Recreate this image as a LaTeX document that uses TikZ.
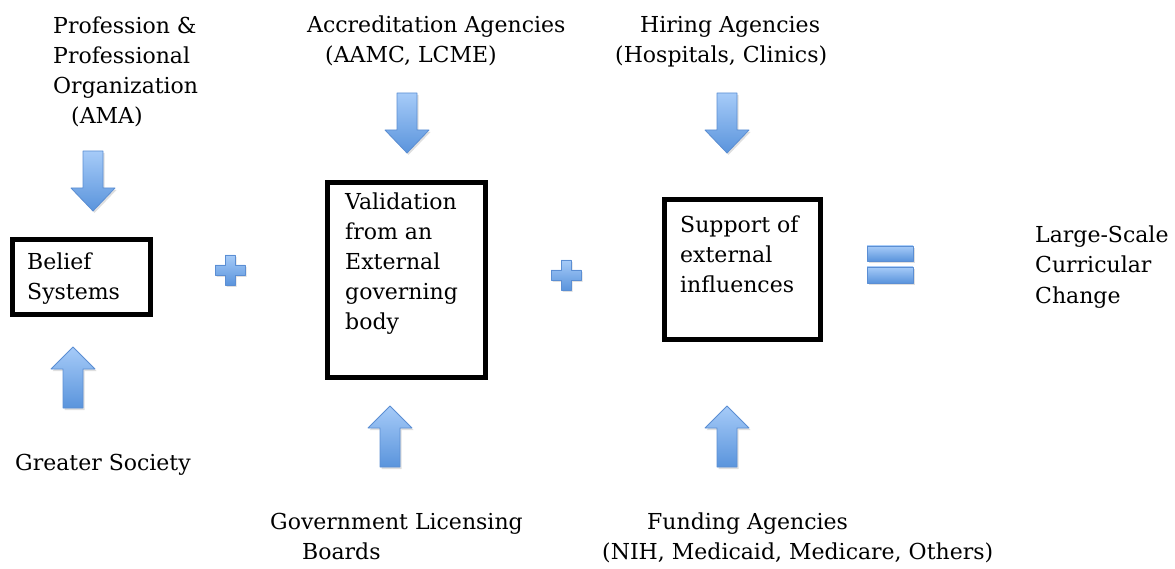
\documentclass[tikz,border=0pt]{standalone}
\usepackage{fontspec}
\setmainfont{DejaVu Serif}
\usetikzlibrary{shadows}
\definecolor{arrowtop}{HTML}{A6CBF8}
\definecolor{arrowbot}{HTML}{5A94DC}
\definecolor{arrowedge}{HTML}{5B8ED3}
\tikzset{
  % multi-line labels: anchored on the baseline of their last line
  lbl/.style={anchor=base west, inner sep=0pt, align=left,
    font=\fontsize{22}{30}\selectfont},
  framebox/.style={draw=black, line width=5pt, inner sep=0pt, fill=white},
  bluefill/.style={top color=arrowtop, bottom color=arrowbot,
    draw=arrowedge, line width=0.8pt, line join=round,
    drop shadow={opacity=0.25, shadow xshift=1.5pt, shadow yshift=-2pt}},
  pics/arrowdown/.style={code={
    \path[bluefill] (-10,0) -- (10,0) -- (10,37) -- (22,37) -- (0,60)
      -- (-22,37) -- (-10,37) -- cycle;}},
  pics/arrowup/.style={code={
    \path[bluefill] (0,0) -- (22,22) -- (10,22) -- (10,61) -- (-10,61)
      -- (-10,22) -- (-22,22) -- cycle;}},
  pics/plussign/.style={code={
    \path[bluefill] (-5,-15) -- (5,-15) -- (5,-5) -- (15,-5) -- (15,5)
      -- (5,5) -- (5,15) -- (-5,15) -- (-5,5) -- (-15,5) -- (-15,-5)
      -- (-5,-5) -- cycle;}},
}
\begin{document}
\begin{tikzpicture}[x=1pt, y=-1pt]
\useasboundingbox (0,0) rectangle (1175,569);

% source labels above
\node[lbl] (prof) at (53,124) {Profession \&\\Professional\\Organization\\\hspace*{18pt}(AMA)};
\node[lbl] (accr) at (307,63) {Accreditation Agencies\\\hspace*{18pt}(AAMC, LCME)};
\node[lbl] (hire) at (615,63) {\hspace*{25pt}Hiring Agencies\\(Hospitals, Clinics)};

% framed boxes
\node[framebox, minimum width=138pt, minimum height=75pt] (belief) at (81.5,277) {};
\node[framebox, minimum width=158pt, minimum height=195pt] (valid) at (406.5,280) {};
\node[framebox, minimum width=156pt, minimum height=140pt] (support) at (742.5,269.5) {};

\node[lbl] (belieft) at (27,300) {Belief\\Systems};
\node[lbl] (validt) at (345,330) {Validation\\from an\\External\\governing\\body};
\node[lbl] (supportt) at (680,293) {Support of\\external\\influences};
\node[lbl] (result) at (1035,303) {Large-Scale\\Curricular\\Change};

% source labels below
\node[lbl] (society) at (15,470) {Greater Society};
\node[lbl] (gov) at (270,559) {Government Licensing\\\hspace*{32pt}Boards};
\node[lbl] (fund) at (602,559) {\hspace*{45pt}Funding Agencies\\(NIH, Medicaid, Medicare, Others)};

% block arrows
\pic at (93,151) {arrowdown};
\pic at (407,93) {arrowdown};
\pic at (727,93) {arrowdown};
\pic at (73,347) {arrowup};
\pic at (390,406) {arrowup};
\pic at (727,406) {arrowup};

% operators
\pic at (230,270) {plussign};
\pic at (566,275) {plussign};
\path[bluefill] (867,246) rectangle (913,261);
\path[bluefill] (867,267) rectangle (913,283);
\end{tikzpicture}
\end{document}
